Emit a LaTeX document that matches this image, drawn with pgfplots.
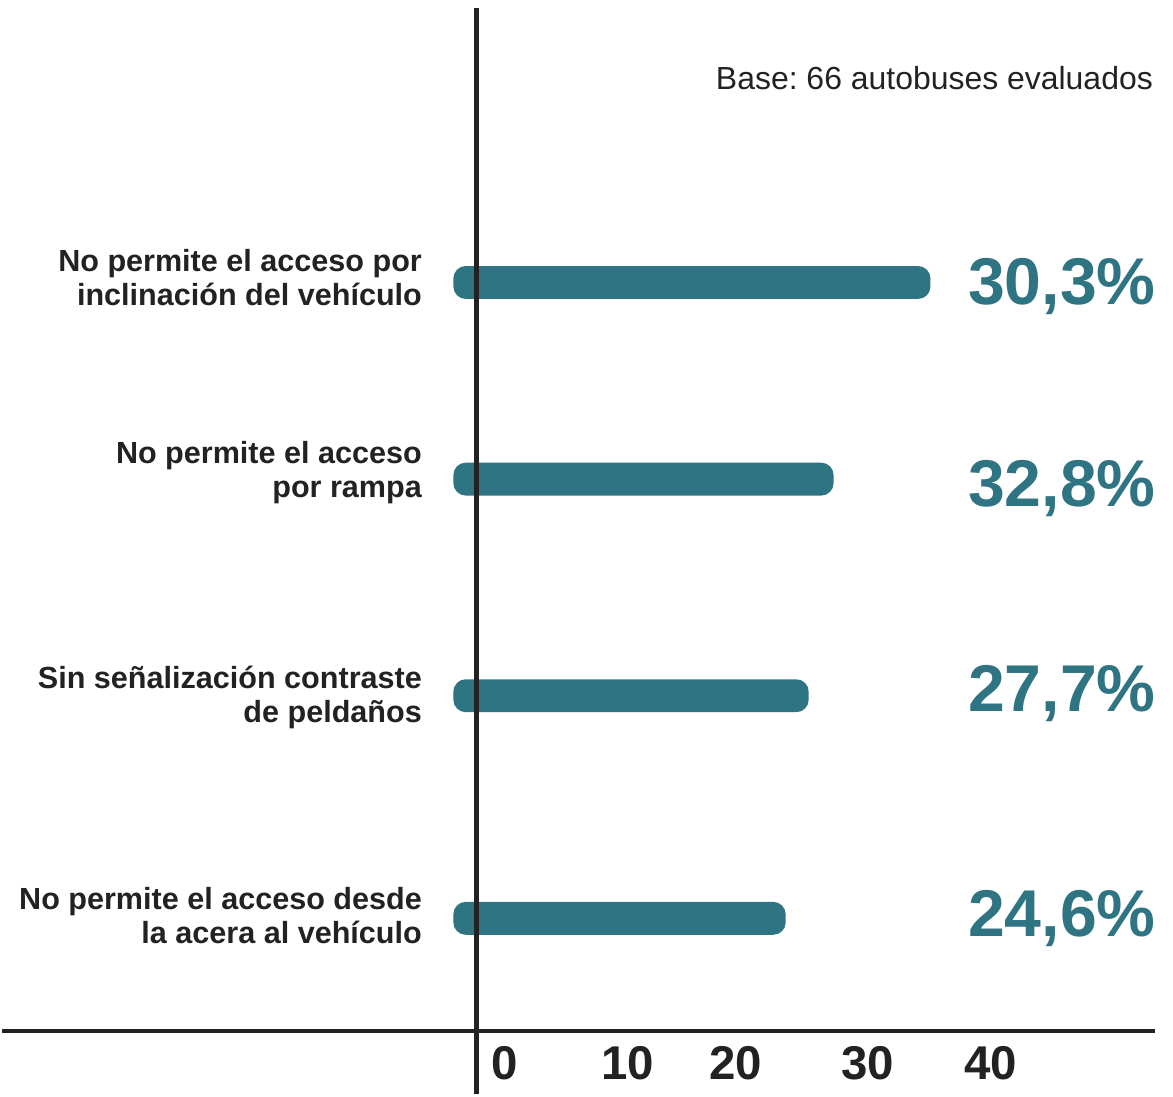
\documentclass[border=0pt]{standalone}
\usepackage{pgfplots}
\pgfplotsset{compat=1.18}
\usepackage{fontspec}
\setmainfont{Liberation Sans}
\frenchspacing
\definecolor{barcol}{HTML}{2E7482}
\definecolor{ink}{HTML}{222222}

\begin{document}
\begin{tikzpicture}
\begin{axis}[
    scale only axis,
    width=462pt, height=413.2pt,
    xmin=-37.13, xmax=57.74,
    ymin=63, ymax=1096,
    axis x line=bottom, axis y line=none,
    axis line style={ink, line width=1.7pt, -},
    xtick={4.19,14.37,23.24,34.09,44.19},
    xticklabels={0,10,20,30,40},
    major tick length=0pt,
    xticklabel style={font=\fontsize{19}{19}\selectfont\bfseries, text=ink, yshift=-2.6pt},
    /pgf/number format/assume math mode=true,
    ytick=\empty,
    clip=false,
    xbar, bar width=13.2pt,
]
% bar lengths as drawn (brush strokes, not to scale with the printed values)
\addplot[fill=barcol, draw=none, rounded corners=5pt] coordinates {
    (39.26,813)
    (31.29,616)
    (29.24,399)
    (27.35,176)
};

\draw[ink, line width=1.8pt] (axis cs:1.89,1088) -- (axis cs:1.89,0);

\node[anchor=east, align=right, inner sep=0pt, font=\fontsize{12.25}{13.6}\selectfont\bfseries, text=ink]
    at (axis cs:-2.55,818) {No permite el acceso por\\inclinación del vehículo};
\node[anchor=east, align=right, inner sep=0pt, font=\fontsize{12.25}{13.6}\selectfont\bfseries, text=ink]
    at (axis cs:-2.55,623) {No permite el acceso\\por rampa};
\node[anchor=east, align=right, inner sep=0pt, font=\fontsize{12.25}{13.6}\selectfont\bfseries, text=ink]
    at (axis cs:-2.55,397) {Sin señalización contraste\\de peldaños};
\node[anchor=east, align=right, inner sep=0pt, font=\fontsize{12.25}{13.6}\selectfont\bfseries, text=ink]
    at (axis cs:-2.55,179) {No permite el acceso desde\\la acera al vehículo};

\node[anchor=east, inner sep=0pt, font=\fontsize{26.5}{26.5}\selectfont\bfseries, text=barcol]
    at (axis cs:57.83,809) {30,3\%};
\node[anchor=east, inner sep=0pt, font=\fontsize{26.5}{26.5}\selectfont\bfseries, text=barcol]
    at (axis cs:57.83,607) {32,8\%};
\node[anchor=east, inner sep=0pt, font=\fontsize{26.5}{26.5}\selectfont\bfseries, text=barcol]
    at (axis cs:57.83,401) {27,7\%};
\node[anchor=east, inner sep=0pt, font=\fontsize{26.5}{26.5}\selectfont\bfseries, text=barcol]
    at (axis cs:57.83,176) {24,6\%};

\node[anchor=east, inner sep=0pt, font=\fontsize{12.8}{12.8}\selectfont, text=ink]
    at (axis cs:57.6,1018) {Base: 66 autobuses evaluados};

\path (axis cs:-37.13,0) rectangle (axis cs:59.22,1096);
\end{axis}
\end{tikzpicture}
\end{document}
